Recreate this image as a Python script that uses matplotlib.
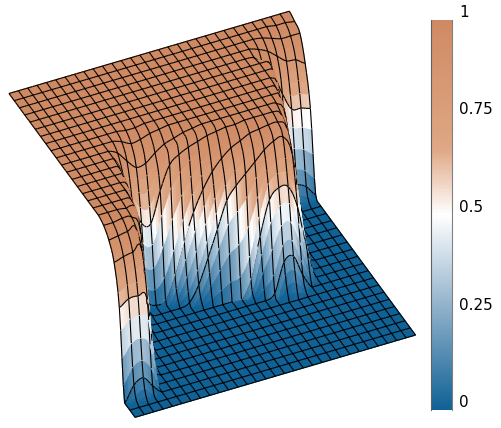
import numpy as np
import matplotlib
matplotlib.use('Agg')
import matplotlib.pyplot as plt
from matplotlib.colors import LinearSegmentedColormap
from matplotlib.cm import ScalarMappable
from mpl_toolkits.mplot3d.art3d import Poly3DCollection

# surface heights, one row per grid line going away from the front corner
z_rows = [
    [0]*31,
    [0]*31,
    [0, .10, .13, .06, 0] + [0]*26,
    [.58, .62, .62, .58, .02] + [0]*26,
    [.83, .85, .86, .85, .12] + [0]*26,
    [.93, .94, .95, .94, .45, .02] + [0]*25,
    [.98, .98, .99, .98, .85, .08] + [0]*25,
    [1, 1, 1, .99, .96, .30, .01] + [0]*24,
    [1, 1, 1, 1, .99, .60, .05] + [0]*24,
    [1, 1, 1, 1, 1, .80, .15, .01] + [0]*12 + [.03, .22, .24, .10] + [0]*7,
    [1, 1, 1, 1, 1, .92, .35, .04] + [0]*10 + [.12, .38, .60, .66, .65, .50, .20] + [0]*6,
    [1]*5 + [.97, .55, .12, .01] + [0]*3 + [.02, .12, .28, .45, .62, .70, .76, .82, .88, .92, .93, .80, .35, .03] + [0]*5,
    [1]*5 + [.99, .72, .30, .06, .01, .03] + [.18, .38, .55, .68, .78, .85, .90, .93, .96, .97, .98, .98, .92, .55, .08] + [0]*5,
    [1]*6 + [.88, .68, .52, .50, .70, .85, .90, .93, .95, .97, .98, .99, .99] + [1]*4 + [.96, .70, .12] + [0]*5,
    [1]*6 + [.97, .90, .84, .85, .90, .94, .96, .98, .99] + [1]*8 + [.99, .88, .25, .02] + [0]*4,
    [1]*7 + [.98, .95, .96, .98, .99] + [1]*12 + [.96, .45, .03] + [0]*4,
    [1]*8 + [.99, .99] + [1]*14 + [.99, .70, .06] + [0]*4,
    [1]*25 + [.88, .12, .01] + [0]*3,
    [1]*25 + [.96, .30, .02] + [0]*3,
    [1]*25 + [.99, .60, .12, .13, .10, .03],
    [1]*24 + [.99, .92, .85, .70, .58, .57, .55],
    [1]*25 + [.98, .95, .90, .85, .84, .80],
    [1]*26 + [.99, .97, .95, .95, .95],
    [1]*28 + [.99, .99, .98],
    [1]*31,
]
cbar_ticks = [0, 0.25, 0.5, 0.75, 1]
cbar_labels = ['0', '0.25', '0.5', '0.75', '1']

cmap = LinearSegmentedColormap.from_list('bluetan', [
    (0, '#0f6196'), (0.25, '#8aadc8'), (0.5, '#ffffff'), (0.67, '#dfa784'), (1, '#cf8a63')])

elev, azim = 39.2, 245.1
box = np.array([308.6, 299.0, 196.0])
sub = 4


def smooth_rows(a):
    # catmull-rom between the read values, only so lines and colours run smoothly on screen
    out = []
    for k in range(a.shape[0]-1):
        p0, p1, p2, p3 = a[max(k-1, 0)], a[k], a[k+1], a[min(k+2, a.shape[0]-1)]
        for t in np.arange(sub)/sub:
            out.append(0.5*(2*p1 + (p2-p0)*t + (2*p0-5*p1+4*p2-p3)*t**2 + (3*p1-p0-3*p2+p3)*t**3))
    out.append(a[-1])
    return np.array(out)


Z = np.array(z_rows, dtype=float)
F = smooth_rows(smooth_rows(Z).T).T.clip(0, 1)
nrow, ncol = F.shape
X, Y = np.meshgrid(np.linspace(0, 1, ncol), np.linspace(0, 1, nrow))
P = np.dstack([X, Y, F])

# colour on the middle wall: average sideways along the screen so the bands stay level
C = F.copy()
for r in range(28, 60):
    for c in range(44, 88):
        C[r, c] = np.mean([F[r-int(round(0.38*k)), c+k] for k in range(-6, 7)])

fig = plt.figure(figsize=(5.02, 4.28), dpi=100)
ax = fig.add_axes([-5.5/502, -5.5/428, 424/502, 427/428], projection='3d')
ax.set_proj_type('ortho')
ax.view_init(elev=elev, azim=azim)
ax.set_box_aspect(box, zoom=1.083)
ax.set_axis_off()

# small push towards the camera so grid lines get painted after the faces next to them
el, az = np.radians(elev), np.radians(azim)
toward = np.array([np.cos(el)*np.cos(az), np.cos(el)*np.sin(az), np.sin(el)]) / (box/box[0]) * 0.02

quads = np.stack([P[:-1, :-1], P[:-1, 1:], P[1:, 1:], P[1:, :-1]], axis=2).reshape(-1, 4, 3)
face_vals = (C[:-1, :-1] + C[:-1, 1:] + C[1:, 1:] + C[1:, :-1]).ravel() / 4
face_cols = cmap(face_vals)

row_a = (P[::sub, :-1] + toward).reshape(-1, 3)
row_b = (P[::sub, 1:] + toward).reshape(-1, 3)
col_a = (P[:-1, ::sub] + toward).reshape(-1, 3)
col_b = (P[1:, ::sub] + toward).reshape(-1, 3)
seg_a = np.vstack([row_a, col_a])
seg_b = np.vstack([row_b, col_b])
segs = np.stack([seg_a, seg_b, seg_b, seg_a], axis=1)
line_cols = np.tile([0, 0, 0, 1.0], (len(segs), 1))

polys = np.vstack([quads, segs])
cols = np.vstack([face_cols, line_cols])
surf = Poly3DCollection(polys, facecolors=cols, edgecolors=cols, linewidths=0.8)
ax.add_collection3d(surf)
ax.set_xlim(0, 1)
ax.set_ylim(0, 1)
ax.set_zlim(0, 1)

cax = fig.add_axes([431/502, 18/428, 21.5/502, 390/428])
cb = fig.colorbar(ScalarMappable(cmap=cmap), cax=cax)
cb.set_ticks(cbar_ticks)
cb.set_ticklabels(cbar_labels, va='bottom', fontsize=11)
cb.ax.tick_params(length=0, pad=5)
cb.outline.set_visible(False)
cax.axvline(0, color='#606060', lw=0.8, clip_on=False)
cax.axvline(1, color='#808080', lw=0.8, clip_on=False)

fig.savefig('out.png', dpi=100)
